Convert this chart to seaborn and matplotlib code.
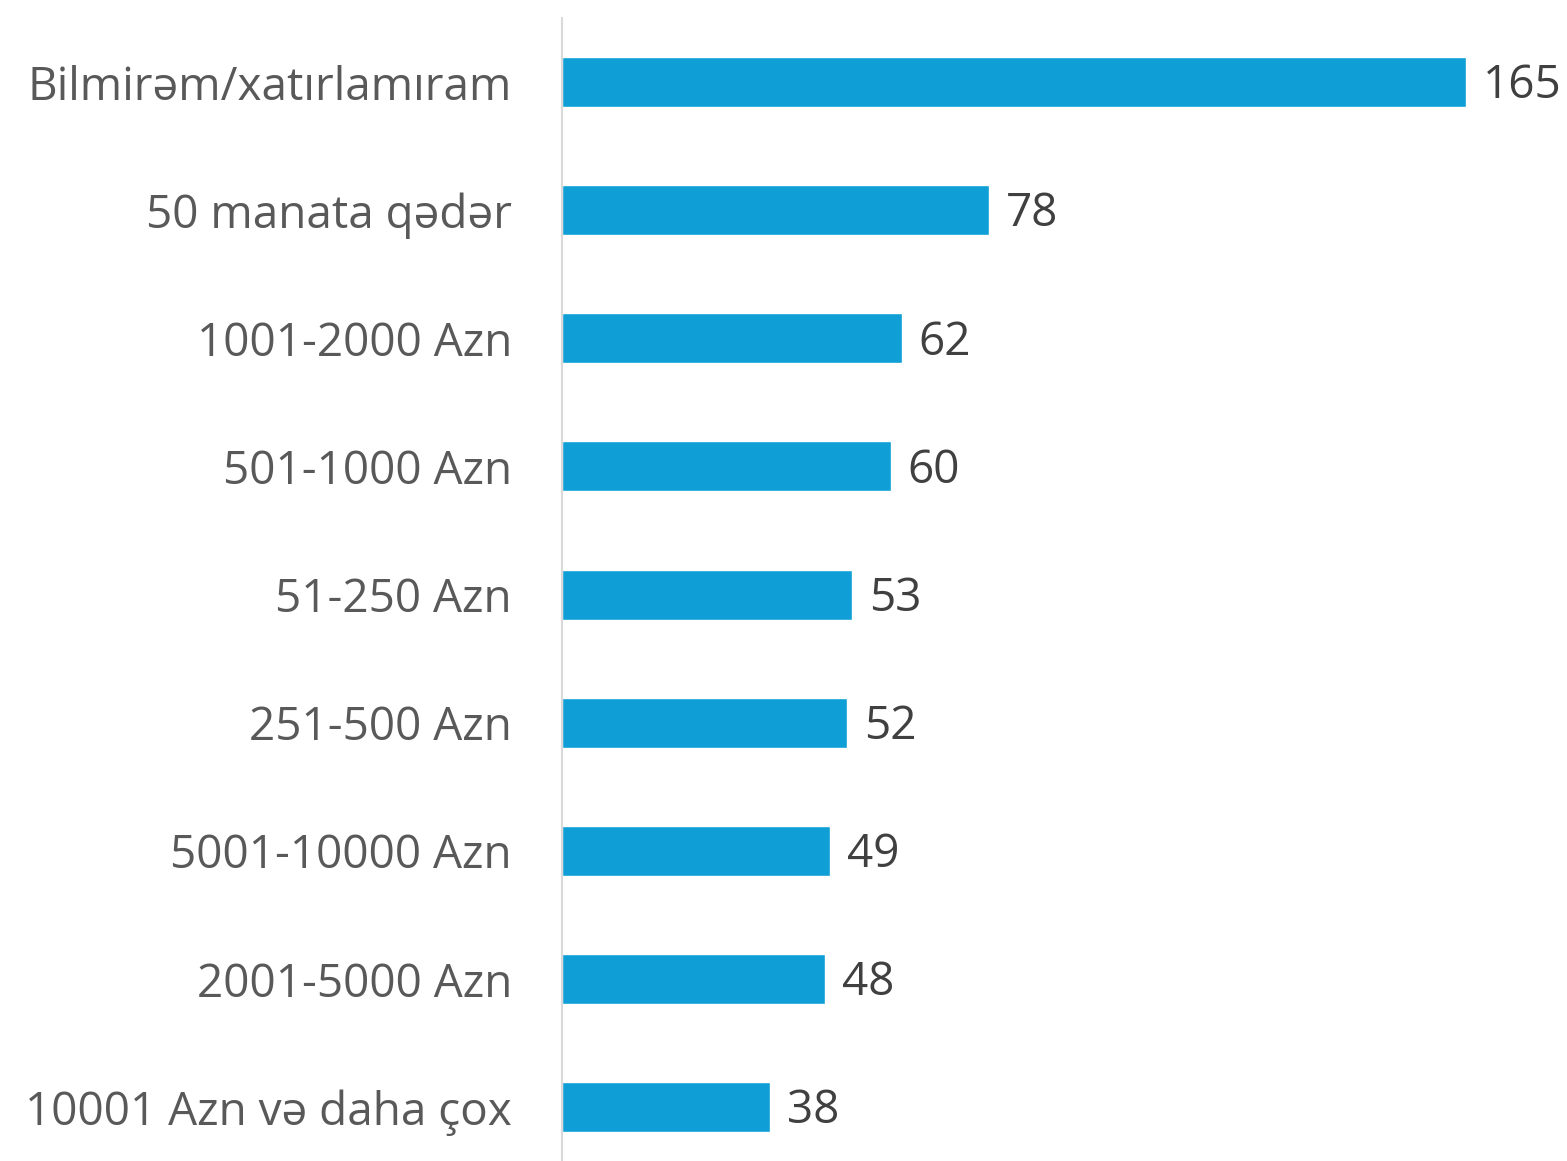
import matplotlib
matplotlib.use('Agg')
import matplotlib.pyplot as plt
import seaborn as sns
import pandas as pd

categories = ['Bilmirəm/xatırlamıram', '50 manata qədər', '1001-2000 Azn', '501-1000 Azn',
              '51-250 Azn', '251-500 Azn', '5001-10000 Azn', '2001-5000 Azn',
              '10001 Azn və daha çox']
values = [165, 78, 62, 60, 53, 52, 49, 48, 38]

df = pd.DataFrame({'cat': categories, 'val': values})

sns.set_style('white')
plt.rcParams['font.family'] = ['Open Sans', 'DejaVu Sans']

fig = plt.figure(figsize=(15.67, 11.61), dpi=100)
ax = fig.add_axes([562 / 1567, 0, 1005 / 1567, 1 - 18 / 1161])

sns.barplot(data=df, x='val', y='cat', color='#0F9ED5', saturation=1, width=0.39, ax=ax)

for i, v in enumerate(values):
    ax.annotate(str(v), (v, i), xytext=(12, -3), textcoords='offset points',
                va='center', ha='left', fontsize=33, color='#404040')

ax.set_xlim(0, 1005 / 5.479)
ax.set_ylim(8.42, -0.5)
ax.set_xlabel('')
ax.set_ylabel('')
ax.set_xticks([])
ax.tick_params(axis='y', length=0, pad=36, labelsize=33, labelcolor='#595959')
for s in ['top', 'right', 'bottom']:
    ax.spines[s].set_visible(False)
ax.spines['left'].set_color('#D9D9D9')
ax.spines['left'].set_linewidth(1.5)

fig.savefig('out.png', dpi=100)
